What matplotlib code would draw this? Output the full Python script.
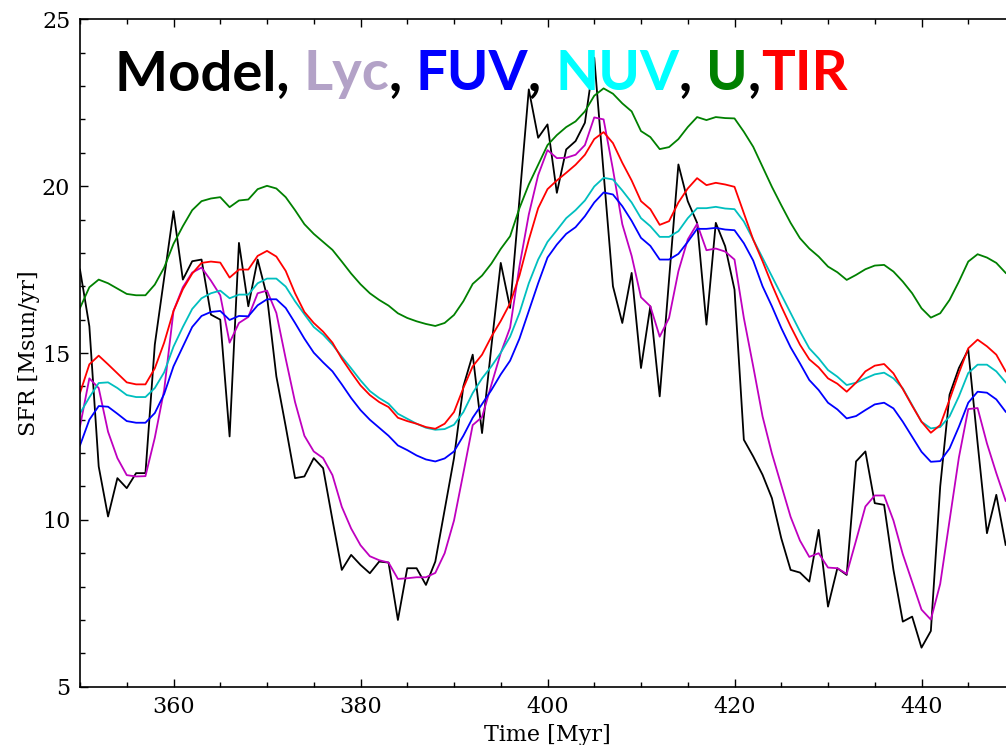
import matplotlib
matplotlib.use('Agg')
import matplotlib.pyplot as plt
from matplotlib.ticker import MultipleLocator

time = list(range(350, 450))

model = [17.5, 15.8, 11.6, 10.1, 11.25, 10.95, 11.4, 11.4, 15.25, 17.25,
         19.25, 17.2, 17.75, 17.8, 16.15, 16.0, 12.5, 18.3, 16.4, 17.8,
         16.7, 14.3, 12.8, 11.25, 11.3, 11.85, 11.55, 10.0, 8.5, 8.95,
         8.65, 8.4, 8.75, 8.72, 7.0, 8.55, 8.55, 8.05, 8.75, 10.3,
         11.85, 14.0, 14.95, 12.6, 15.2, 17.7, 16.35, 19.6, 22.9, 21.45,
         21.85, 19.8, 21.1, 21.35, 21.9, 23.85, 20.4, 17.0, 15.9, 17.4,
         14.55, 16.4, 13.7, 17.2, 20.65, 19.55, 18.9, 15.85, 18.9, 18.2,
         16.9, 12.4, 11.9, 11.35, 10.65, 9.45, 8.5, 8.42, 8.15, 9.7,
         7.4, 8.55, 8.35, 11.75, 12.05, 10.5, 10.45, 8.5, 6.95, 7.1,
         6.17, 6.67, 11.0, 13.75, 14.55, 15.1, 12.3, 9.6, 10.75, 9.25]

lyc = [12.8, 14.24, 13.95, 12.64, 11.85, 11.34, 11.3, 11.31, 12.46, 13.89,
       16.26, 16.97, 17.41, 17.56, 17.17, 16.73, 15.31, 15.9, 16.08, 16.79,
       16.87, 16.2, 14.83, 13.53, 12.52, 12.05, 11.85, 11.34, 10.39, 9.74,
       9.24, 8.91, 8.79, 8.72, 8.23, 8.25, 8.28, 8.28, 8.41, 9.0,
       9.98, 11.4, 12.84, 13.08, 14.05, 15.0, 15.76, 17.6, 19.15, 20.33,
       21.08, 20.84, 20.85, 20.94, 21.23, 22.06, 22.0, 20.5, 18.86, 17.91,
       16.67, 16.4, 15.49, 16.05, 17.45, 18.4, 18.87, 18.08, 18.13, 18.04,
       17.8, 16.05, 14.6, 13.1, 11.99, 11.04, 10.09, 9.38, 8.89, 9.0,
       8.57, 8.55, 8.38, 9.38, 10.4, 10.73, 10.73, 9.98, 8.97, 8.14,
       7.31, 7.01, 8.08, 9.98, 11.87, 13.32, 13.35, 12.29, 11.4, 10.57]

fuv = [12.23, 13.0, 13.41, 13.39, 13.18, 12.96, 12.91, 12.91, 13.2, 13.77,
       14.6, 15.19, 15.78, 16.11, 16.23, 16.26, 15.99, 16.11, 16.1, 16.43,
       16.61, 16.61, 16.35, 15.9, 15.43, 15.01, 14.72, 14.45, 14.06, 13.65,
       13.29, 13.0, 12.76, 12.52, 12.23, 12.09, 11.93, 11.81, 11.75, 11.84,
       12.05, 12.52, 13.06, 13.47, 13.89, 14.36, 14.77, 15.43, 16.26, 17.09,
       17.86, 18.25, 18.57, 18.77, 19.1, 19.51, 19.81, 19.75, 19.4, 18.96,
       18.45, 18.21, 17.8, 17.8, 17.97, 18.33, 18.72, 18.72, 18.75, 18.7,
       18.68, 18.29, 17.77, 17.0, 16.4, 15.75, 15.17, 14.69, 14.19, 13.89,
       13.51, 13.31, 13.04, 13.11, 13.29, 13.46, 13.51, 13.34, 12.94, 12.49,
       12.04, 11.74, 11.76, 12.14, 12.79, 13.51, 13.84, 13.81, 13.61, 13.24]

nuv = [13.19, 13.67, 14.1, 14.12, 13.95, 13.74, 13.68, 13.68, 13.95, 14.42,
       15.19, 15.78, 16.32, 16.64, 16.79, 16.87, 16.64, 16.75, 16.75, 17.09,
       17.23, 17.23, 16.99, 16.55, 16.16, 15.78, 15.55, 15.25, 14.89, 14.54,
       14.18, 13.86, 13.65, 13.48, 13.18, 13.03, 12.88, 12.76, 12.7, 12.72,
       12.85, 13.23, 13.8, 14.24, 14.6, 15.01, 15.49, 16.2, 17.09, 17.8,
       18.33, 18.68, 19.04, 19.28, 19.57, 19.99, 20.25, 20.2, 19.87, 19.51,
       19.04, 18.8, 18.48, 18.48, 18.65, 19.04, 19.34, 19.34, 19.38, 19.33,
       19.31, 18.94, 18.4, 17.85, 17.3, 16.75, 16.2, 15.65, 15.14, 14.84,
       14.49, 14.29, 14.04, 14.11, 14.24, 14.36, 14.41, 14.24, 13.94, 13.44,
       12.94, 12.74, 12.78, 13.1, 13.7, 14.4, 14.65, 14.65, 14.45, 14.12]

u = [16.35, 16.97, 17.2, 17.09, 16.93, 16.77, 16.73, 16.73, 17.05, 17.56,
     18.27, 18.8, 19.28, 19.55, 19.63, 19.67, 19.37, 19.57, 19.6, 19.91,
     20.01, 19.93, 19.67, 19.28, 18.86, 18.57, 18.33, 18.09, 17.74, 17.38,
     17.06, 16.79, 16.59, 16.42, 16.19, 16.05, 15.95, 15.87, 15.81, 15.9,
     16.14, 16.55, 17.07, 17.32, 17.68, 18.12, 18.5, 19.34, 20.05, 20.64,
     21.23, 21.53, 21.77, 21.94, 22.24, 22.71, 22.93, 22.77, 22.48, 22.24,
     21.65, 21.47, 21.11, 21.17, 21.41, 21.77, 22.07, 21.98, 22.07, 22.04,
     22.03, 21.63, 21.18, 20.58, 19.98, 19.43, 18.9, 18.44, 18.13, 17.89,
     17.59, 17.42, 17.19, 17.34, 17.51, 17.62, 17.64, 17.44, 17.14, 16.79,
     16.34, 16.06, 16.19, 16.59, 17.14, 17.74, 17.96, 17.86, 17.7, 17.4]

tir = [13.8, 14.66, 14.92, 14.66, 14.39, 14.12, 14.06, 14.06, 14.54, 15.31,
       16.26, 16.91, 17.38, 17.7, 17.74, 17.71, 17.26, 17.5, 17.5, 17.91,
       18.06, 17.89, 17.46, 16.79, 16.23, 15.9, 15.64, 15.31, 14.83, 14.42,
       14.03, 13.74, 13.53, 13.38, 13.06, 12.96, 12.88, 12.78, 12.73, 12.88,
       13.23, 13.95, 14.6, 14.95, 15.49, 15.96, 16.49, 17.32, 18.39, 19.34,
       19.91, 20.17, 20.4, 20.64, 20.94, 21.41, 21.62, 21.29, 20.7, 20.17,
       19.55, 19.31, 18.84, 18.95, 19.51, 19.93, 20.24, 20.03, 20.1, 20.05,
       19.98, 19.19, 18.4, 17.75, 17.05, 16.4, 15.8, 15.25, 14.81, 14.57,
       14.24, 14.08, 13.84, 14.11, 14.45, 14.62, 14.67, 14.39, 13.92, 13.42,
       12.94, 12.61, 12.84, 13.6, 14.4, 15.14, 15.4, 15.2, 14.95, 14.45]

title_parts = ['Model, ', 'Lyc', ', ', 'FUV', ', ', 'NUV', ', ', 'U', ',', 'TIR']
title_colors = ['black', '#b3a2c7', 'black', '#0000ff', 'black', '#00ffff',
                'black', '#008000', 'black', '#ff0000']

plt.rcParams['font.family'] = 'DejaVu Serif'

fig = plt.figure(figsize=(10.06, 7.45), dpi=100)
# axes runs past the right edge of the picture, like the cropped original
ax = fig.add_axes([80 / 1006, 58.3 / 745, 935 / 1006, 667.4 / 745])

lw = 1.3
ax.plot(time, model, color='black', lw=lw)
ax.plot(time, lyc, color=(0.75, 0, 0.75), lw=lw)
ax.plot(time, fuv, color='#0000ff', lw=lw)
ax.plot(time, nuv, color=(0, 0.75, 0.75), lw=lw)
ax.plot(time, u, color=(0, 0.5, 0), lw=lw)
ax.plot(time, tir, color='#ff0000', lw=lw)

ax.set_xlim(350, 450)
ax.set_ylim(5, 25)
ax.xaxis.set_major_locator(MultipleLocator(20))
ax.xaxis.set_minor_locator(MultipleLocator(5))
ax.yaxis.set_major_locator(MultipleLocator(5))
ax.yaxis.set_minor_locator(MultipleLocator(1))
ax.set_xticks([360, 380, 400, 420, 440])
ax.tick_params(which='both', direction='in', top=True, right=True, labelsize=16)
ax.tick_params(which='major', length=6, width=1, pad=7)
ax.tick_params(which='minor', length=3.5, width=1)
for sp in ax.spines.values():
    sp.set_linewidth(1.2)

ax.set_xlabel('Time [Myr]', fontsize=16, labelpad=4)
ax.set_ylabel('SFR [Msun/yr]', fontsize=16, labelpad=1.5)

t = ax.text(0.0374, 0.894, title_parts[0], color=title_colors[0], transform=ax.transAxes,
            fontsize=40.5, fontweight='bold', family='Lato', va='baseline', ha='left')
for s, c in zip(title_parts[1:], title_colors[1:]):
    t = ax.annotate(s, xy=(1, 0), xycoords=t, va='bottom', ha='left', color=c,
                    fontsize=40.5, fontweight='bold', family='Lato')

fig.savefig('out.png', dpi=100)
